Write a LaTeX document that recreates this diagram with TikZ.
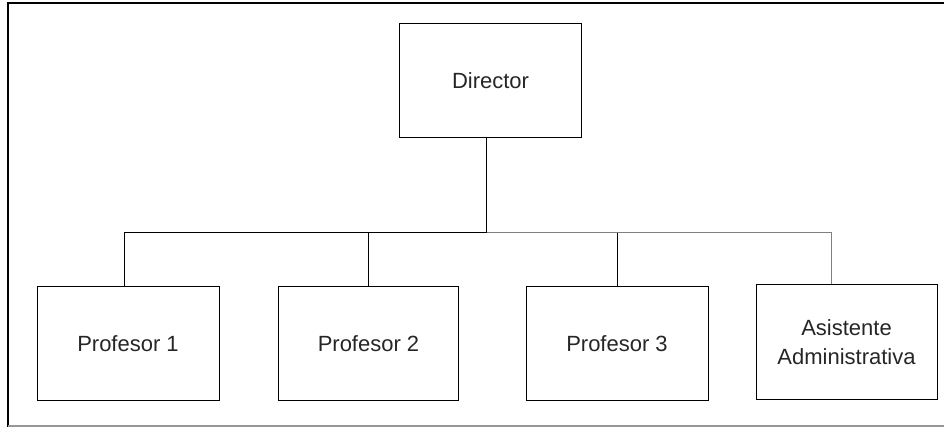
\documentclass[tikz,border=0pt]{standalone}
\usepackage{fontspec}
\setmainfont{Liberation Sans}
\definecolor{lgray}{RGB}{128,128,128}
\definecolor{fgray}{RGB}{150,150,150}
\begin{document}
\begin{tikzpicture}[x=1pt,y=-1pt,
  box/.style={draw=black,line width=1pt,minimum width=182pt,minimum height=113pt,inner sep=0pt,
    font=\fontsize{22}{29}\selectfont,align=center,text=black!85},
  conn/.style={draw=black,line width=1pt}]
\useasboundingbox (0,0) rectangle (944,427);
% frame
\draw[line width=1.6pt,black] (8,427) -- (8,3) -- (944,3);
\draw[line width=1.2pt,fgray] (8,426) -- (944,426);
% boxes
\node[box,minimum width=182pt,minimum height=114pt] (dir) at (490.5,81) {Director};
\node[box] (p1) at (128,343.5) {Profesor 1};
\node[box,minimum width=180pt] (p2) at (368.5,343.5) {Profesor 2};
\node[box] (p3) at (617,343.5) {Profesor 3};
\node[box,minimum width=181pt,minimum height=114pt] (as) at (846.5,342) {Asistente\\Administrativa};
% connectors
\coordinate (bus) at (486.5,233);
\draw[conn] ([xshift=-4pt]dir.south) -- (bus);
\draw[conn] ([xshift=-4pt]p1.north) |- (bus);
\draw[conn] (p2.north) -- (p2.north |- bus);
\draw[conn,draw=lgray] (bus) -| ([xshift=-15.5pt]as.north);
\draw[conn] (p3.north) -- (p3.north |- bus);
\end{tikzpicture}
\end{document}
